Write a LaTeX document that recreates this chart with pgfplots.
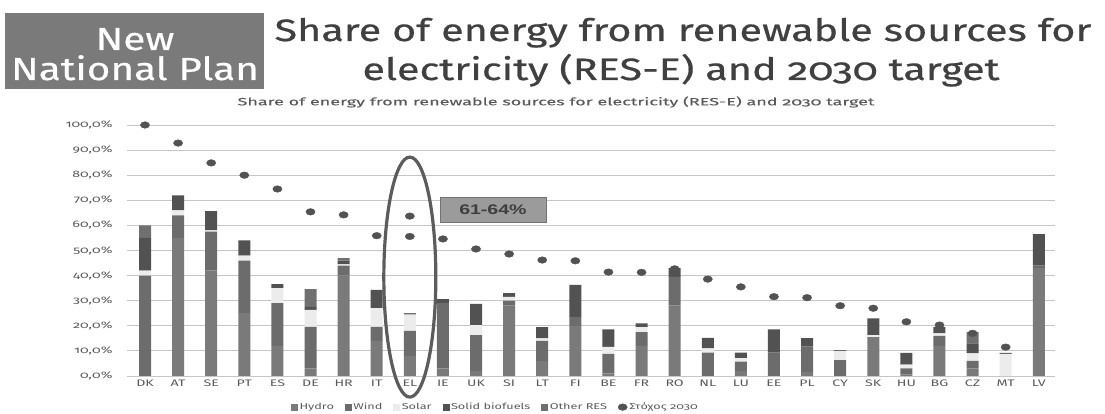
\documentclass[border=0pt]{standalone}
\usepackage{fontspec}
\setmainfont{Fira Sans}[Numbers=OldStyle]
\newfontfamily\chartfont{Fira Sans}[FakeStretch=1.5,Numbers=OldStyle]
\newfontfamily\subfont{Fira Sans}[FakeStretch=1.72,Numbers=OldStyle,FakeBold=0.3]
\newfontfamily\titlefont{Fira Sans}[FakeStretch=1.34,Numbers=OldStyle,FakeBold=0.6]
\newfontfamily\headfont{Fira Sans}[FakeStretch=1.27,Numbers=OldStyle,FakeBold=0.5]
\newfontfamily\boxfont{Liberation Sans}[FakeStretch=1.4]
\usepackage{pgfplots}
\pgfplotsset{compat=1.18}
\usepackage{pgfplotstable}
\definecolor{cHydro}{RGB}{122,122,122}
\definecolor{cWind}{RGB}{108,108,108}
\definecolor{cSolar}{RGB}{236,236,236}
\definecolor{cBio}{RGB}{82,82,82}
\definecolor{cOther}{RGB}{112,112,112}
\definecolor{tgtc}{RGB}{82,82,82}
\definecolor{gridc}{RGB}{198,198,198}
\definecolor{labc}{RGB}{90,90,90}
\definecolor{boxgray}{RGB}{122,122,122}
\definecolor{titlec}{RGB}{64,64,64}
\definecolor{annotf}{RGB}{155,155,155}
\definecolor{annotd}{RGB}{115,115,115}
\definecolor{annott}{RGB}{62,62,62}
\definecolor{ellc}{RGB}{92,92,92}

\pgfplotstableread{
x hydro wind solar bio other
0 0 40 2 13 5
1 55 9 2 6 0
2 42 15.5 0.5 7.7 0
3 25 21 2 6 0
4 12 17 6 1.6 0
5 3 16.6 6.7 1.2 7.1
6 40 4 0.5 1.5 1
7 14 5.6 7.4 7.3 0
8 8 10 6.5 0 0.5
9 3 26 0 1.6 0
10 2 14.3 4 8.4 0
11 28 2 1.5 1.5 0
12 6 8 1 4.5 0
13 20 3.6 0 12.7 0
14 1 7.8 2.8 7 0
15 12 5.5 2 1.5 0
16 28 11.5 0 3.5 0
17 0 9.3 1.7 4.2 0
18 2 3.7 1.4 2.2 0
19 0 9.3 0 9.3 0
20 1.5 10.2 0 3.4 0
21 0 6.3 3.7 0.3 0
22 15.5 0 0.8 6.7 0
23 0.5 2.5 1.5 4.7 0
24 12 4 1 2.5 0
25 3 3 3 4 4.5
26 0 0 8.8 0.4 0
27 43 1 0 12.5 0
}\res

\pgfplotstableread{
x t
0 100
1 92.8
2 84.9
3 80
4 74.5
5 65.4
6 64.2
7 55.9
8 63.7
8 55.6
9 54.6
10 50.6
11 48.6
12 46.2
13 45.9
14 41.4
15 41.3
16 42.7
17 38.6
18 35.5
19 31.6
20 31.2
21 28
22 27
23 21.6
24 20.3
25 17
26 11.5
}\tgt

\pgfplotsset{
  common/.style={
    at={(127bp,38bp)}, anchor=south west,
    width=928bp, height=251bp, scale only axis,
    xmin=-0.544, xmax=27.49, ymin=0, ymax=100,
  },
  sqleg/.style={legend image code/.code={\fill[#1] (0bp,-2.6bp) rectangle (6bp,2.6bp);}},
}

\begin{document}
\begin{tikzpicture}
\useasboundingbox (0bp,0bp) rectangle (1105bp,414bp);
% header
\fill[boxgray] (5bp,325bp) rectangle (264bp,401bp);
\node[text=white, font=\headfont\fontsize{32}{34}\selectfont, anchor=base] at (135bp,364bp) {New};
\node[text=white, font=\headfont\fontsize{32}{34}\selectfont, anchor=base] at (135bp,334bp) {National Plan};
\node[text=titlec, font=\titlefont\fontsize{31}{34}\selectfont, anchor=base] at (683bp,373bp) {Share of energy from renewable sources for};
\node[text=titlec, font=\titlefont\fontsize{31}{34}\selectfont, anchor=base] at (681bp,334bp) {electricity (RES-E) and 2030 target};
\node[text=labc, font=\subfont\fontsize{10.5}{12}\selectfont] at (556bp,312bp) {Share of energy from renewable sources for electricity (RES-E) and 2030 target};

\begin{axis}[common,
  ybar stacked, bar width=12bp,
  axis line style={draw=none}, major tick length=0,
  ymajorgrids, grid style={color=gridc, line width=0.9bp},
  ytick={0,10,...,100},
  yticklabels={{0,0\%},{10,0\%},{20,0\%},{30,0\%},{40,0\%},{50,0\%},{60,0\%},{70,0\%},{80,0\%},{90,0\%},{100,0\%}},
  xtick={0,1,...,27},
  xticklabels={DK,AT,SE,PT,ES,DE,HR,IT,EL,IE,UK,SI,LT,FI,BE,FR,RO,NL,LU,EE,PL,CY,SK,HU,BG,CZ,MT,LV},
  tick label style={font=\chartfont\fontsize{9.5}{11}\selectfont, text=labc},
  yticklabel style={xshift=-11bp},
]
\addplot[fill=cHydro, draw=none] table[x=x,y=hydro]{\res};
\addplot[fill=cWind, draw=none] table[x=x,y=wind]{\res};
\addplot[fill=cSolar, draw=none] table[x=x,y=solar]{\res};
\addplot[fill=cBio, draw=none] table[x=x,y=bio]{\res};
\addplot[fill=cOther, draw=none] table[x=x,y=other]{\res};
\end{axis}

\begin{axis}[common, hide axis, clip=false,
  legend columns=6,
  legend style={at={(0.397,-0.124)}, anchor=center, draw=none, fill=none,
    font=\chartfont\fontsize{8.5}{10}\selectfont, text=labc,
    /tikz/every even column/.append style={column sep=9bp}},
]
\addlegendimage{sqleg={cHydro}}
\addlegendentry{Hydro}
\addlegendimage{sqleg={cWind}}
\addlegendentry{Wind}
\addlegendimage{sqleg={cSolar}}
\addlegendentry{Solar}
\addlegendimage{sqleg={cBio}}
\addlegendentry{Solid biofuels}
\addlegendimage{sqleg={cOther}}
\addlegendentry{Other RES}
\addplot[only marks, mark=*, mark size=3.3bp, mark options={xscale=1.4, fill=tgtc, draw=tgtc}] table[x=x,y=t]{\tgt};
\addlegendentry{Στόχος 2030}
\draw[ellc, line width=3.2bp] (axis cs:8,39.4) ellipse [x radius=26bp, y radius=120bp];
\node[fill=annotf, draw=annotd, minimum width=106bp, minimum height=25bp, inner sep=0pt,
  font=\boxfont\bfseries\fontsize{14}{16}\selectfont, text=annott] at (axis cs:10.51,66.1) {61-64\%};
\end{axis}
\end{tikzpicture}
\end{document}
